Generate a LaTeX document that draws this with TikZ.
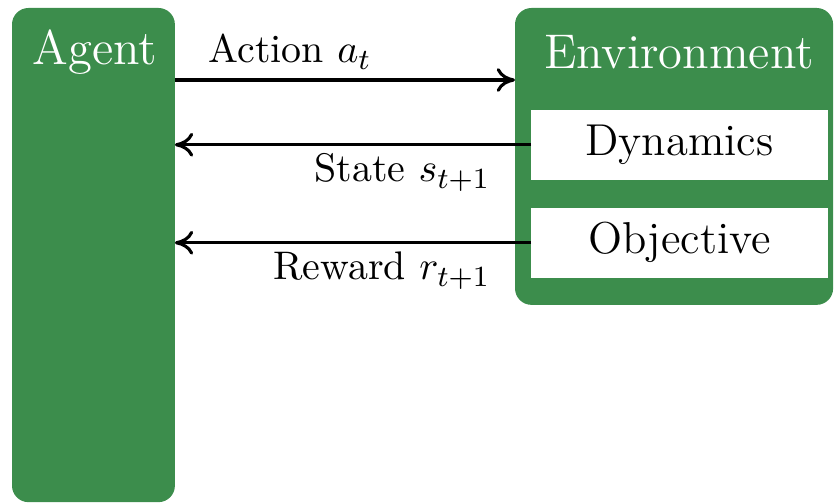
\documentclass[tikz,border=0pt]{standalone}
\usepackage{tikz}
\usetikzlibrary{arrows.meta}
\definecolor{envgreen}{RGB}{60,141,76}

\begin{document}
\begin{tikzpicture}[x=0.2732pt,y=-0.2732pt,
  box/.style={fill=envgreen, rounded corners=4.5pt, inner sep=0pt, outer sep=0pt},
  sub/.style={fill=white, inner sep=0pt, outer sep=0pt, minimum width=81.1pt, minimum height=19pt, font=\fontsize{12.2}{14}\selectfont},
  title/.style={text=white, font=\fontsize{13.3}{16}\selectfont},
  lbl/.style={inner sep=0pt, font=\fontsize{10.9}{13}\selectfont},
  arr/.style={-{To[length=5pt,width=6.5pt]}, line width=0.85pt}]
\useasboundingbox (0,0) rectangle (835,503);

\node[box, anchor=north west, minimum width=44.5pt, minimum height=135pt] (agent) at (12,8) {};
\node[box, anchor=north west, minimum width=86.9pt, minimum height=81.1pt] (env) at (515,8) {};
\node[sub, anchor=north west] (dyn) at (531,110) {Dynamics};
\node[sub, anchor=north west] (obj) at (531,208) {Objective};

\node[title] (agenttitle) at (95,52) {Agent};
\node[title] (envtitle) at (679,52) {Environment};

\coordinate (act) at (0,80);
\draw[arr] (agent.east |- act) -- (env.west |- act);
\draw[arr] (dyn.west) -- (agent.east |- dyn.west);
\draw[arr] (obj.west) -- (agent.east |- obj.west);

\node[lbl, anchor=base west] (actlabel) at (208,63) {Action $a_t$};
\node[lbl, anchor=base east] (statelabel) at (491,182) {State $s_{t+1}$};
\node[lbl, anchor=base east] (rewardlabel) at (491,280) {Reward $r_{t+1}$};
\end{tikzpicture}
\end{document}
